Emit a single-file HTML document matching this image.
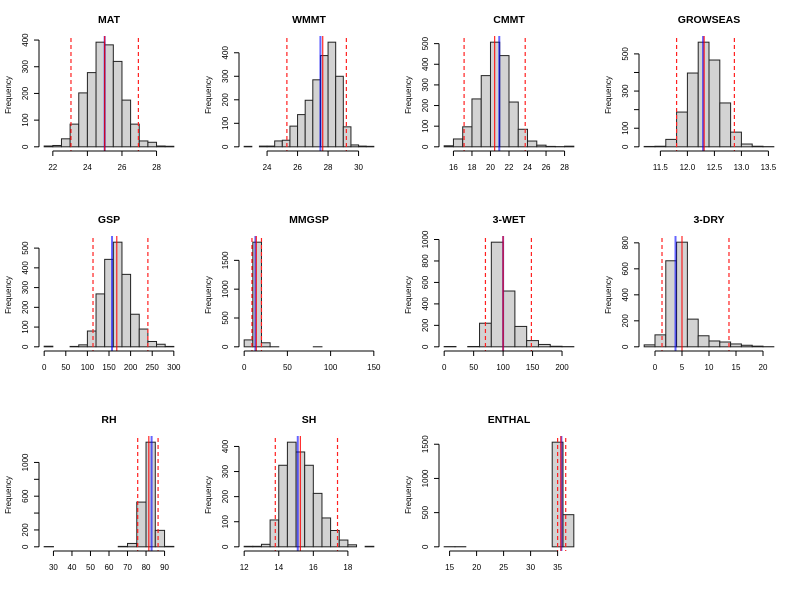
<!DOCTYPE html>
<html><head><meta charset="utf-8"><style>
html,body{margin:0;padding:0;background:#fff;}
svg{display:block;font-family:"Liberation Sans",sans-serif;}
</style></head><body>
<svg id="chart" width="800" height="600" viewBox="0 0 800 600"></svg>
<script>
// ---- data ----
const MAT_breaks=[21.5,22,22.5,23,23.5,24,24.5,25,25.5,26,26.5,27,27.5,28,28.5,29];
const MAT_counts=[3,5,30,85,202,278,392,382,320,175,85,22,17,3,2];
const MAT_xticks=[22,24,26,28];
const MAT_yticks=[0,100,200,300,400];
const MAT_ylabels=["0","100","200","300","400"];
const MAT_dashed=[23.05,26.95];
const MAT_blue=25.0, MAT_red=25.0;

const WMMT_breaks=[22.5,23,23.5,24,24.5,25,25.5,26,26.5,27,27.5,28,28.5,29,29.5,30,30.5,31];
const WMMT_counts=[2,0,3,3,25,28,88,137,198,285,388,445,300,85,8,3,2];
const WMMT_xticks=[24,26,28,30];
const WMMT_yticks=[0,100,200,300,400];
const WMMT_ylabels=["0","100","200","300","400"];
const WMMT_dashed=[25.3,29.2];
const WMMT_blue=27.5, WMMT_red=27.65;

const CMMT_breaks=[15,16,17,18,19,20,21,22,23,24,25,26,27,28,29];
const CMMT_counts=[5,38,97,232,345,507,442,217,85,28,8,2,1,3];
const CMMT_xticks=[16,18,20,22,24,26,28];
const CMMT_yticks=[0,100,200,300,400,500];
const CMMT_ylabels=["0","100","200","300","400","500"];
const CMMT_dashed=[17.15,23.75];
const CMMT_blue=20.95, CMMT_red=20.45;

const GROW_breaks=[11.2,11.4,11.6,11.8,12.0,12.2,12.4,12.6,12.8,13.0,13.2,13.4,13.6];
const GROW_counts=[2,3,40,187,397,563,467,236,79,15,3,1];
const GROW_xticks=[11.5,12.0,12.5,13.0,13.5];
const GROW_xlabels=["11.5","12.0","12.5","13.0","13.5"];
const GROW_yticks=[0,100,200,300,400,500];
const GROW_ylabels=["0","100","","300","","500"];
const GROW_dashed=[11.8,12.87];
const GROW_blue=12.29, GROW_red=12.31;

const GSP_breaks=[0,20,40,60,80,100,120,140,160,180,200,220,240,260,280,300];
const GSP_counts=[3,0,0,2,10,80,268,443,530,367,165,90,27,13,2];
const GSP_xticks=[0,50,100,150,200,250,300];
const GSP_yticks=[0,100,200,300,400,500];
const GSP_ylabels=["0","100","200","300","400","500"];
const GSP_dashed=[113,240];
const GSP_blue=157, GSP_red=168;

const MMGSP_breaks=[0,10,20,30,40,50,60,70,80,90,100,110,120,130,140,150];
const MMGSP_counts=[120,1815,70,1,0,0,0,0,1,0,0,0,0,0,0];
const MMGSP_xticks=[0,50,100,150];
const MMGSP_yticks=[0,500,1000,1500];
const MMGSP_ylabels=["0","500","1000","1500"];
const MMGSP_dashed=[9,20];
const MMGSP_blue=13, MMGSP_red=14;

const WET_breaks=[0,20,40,60,80,100,120,140,160,180,200,220];
const WET_counts=[3,0,3,220,975,520,190,58,22,5,2];
const WET_xticks=[0,50,100,150,200];
const WET_yticks=[0,200,400,600,800,1000];
const WET_ylabels=["0","200","400","600","800","1000"];
const WET_dashed=[70,148];
const WET_blue=100, WET_red=100;

const DRY_breaks=[-2,0,2,4,6,8,10,12,14,16,18,20,22];
const DRY_counts=[15,92,662,805,213,85,45,37,22,12,5,1];
const DRY_xticks=[0,5,10,15,20];
const DRY_yticks=[0,200,400,600,800];
const DRY_ylabels=["0","200","400","600","800"];
const DRY_dashed=[1.3,13.7];
const DRY_blue=3.8, DRY_red=5.0;

const RH_breaks=[25,30,35,40,45,50,55,60,65,70,75,80,85,90,95];
const RH_counts=[3,0,0,0,0,0,0,0,5,40,530,1240,195,5];
const RH_xticks=[30,40,50,60,70,80,90];
const RH_yticks=[0,200,400,600,800,1000];
const RH_ylabels=["0","200","","600","","1000"];
const RH_dashed=[75.5,86.5];
const RH_blue=83, RH_red=81.5;

const SH_breaks=[12,12.5,13,13.5,14,14.5,15,15.5,16,16.5,17,17.5,18,18.5,19,19.5];
const SH_counts=[2,2,10,107,325,417,378,325,213,115,65,27,8,0,2];
const SH_xticks=[12,14,16,18];
const SH_yticks=[0,100,200,300,400];
const SH_ylabels=["0","100","200","300","400"];
const SH_dashed=[13.8,17.4];
const SH_blue=15.1, SH_red=15.25;

const ENT_breaks=[14,16,18,20,22,24,26,28,30,32,34,36,38];
const ENT_counts=[2,2,0,0,0,0,0,0,0,0,1530,470];
const ENT_xticks=[15,20,25,30,35];
const ENT_yticks=[0,500,1000,1500];
const ENT_ylabels=["0","500","1000","1500"];
const ENT_dashed=[35.0,36.5];
const ENT_blue=35.7, ENT_red=35.6;

const panels=[
 {title:"MAT",b:MAT_breaks,c:MAT_counts,xt:MAT_xticks,yt:MAT_yticks,yl:MAT_ylabels,d:MAT_dashed,bl:MAT_blue,rd:MAT_red},
 {title:"WMMT",b:WMMT_breaks,c:WMMT_counts,xt:WMMT_xticks,yt:WMMT_yticks,yl:WMMT_ylabels,d:WMMT_dashed,bl:WMMT_blue,rd:WMMT_red},
 {title:"CMMT",b:CMMT_breaks,c:CMMT_counts,xt:CMMT_xticks,yt:CMMT_yticks,yl:CMMT_ylabels,d:CMMT_dashed,bl:CMMT_blue,rd:CMMT_red},
 {title:"GROWSEAS",b:GROW_breaks,c:GROW_counts,xt:GROW_xticks,xl:GROW_xlabels,yt:GROW_yticks,yl:GROW_ylabels,d:GROW_dashed,bl:GROW_blue,rd:GROW_red},
 {title:"GSP",b:GSP_breaks,c:GSP_counts,xt:GSP_xticks,yt:GSP_yticks,yl:GSP_ylabels,d:GSP_dashed,bl:GSP_blue,rd:GSP_red},
 {title:"MMGSP",b:MMGSP_breaks,c:MMGSP_counts,xt:MMGSP_xticks,yt:MMGSP_yticks,yl:MMGSP_ylabels,d:MMGSP_dashed,bl:MMGSP_blue,rd:MMGSP_red},
 {title:"3-WET",b:WET_breaks,c:WET_counts,xt:WET_xticks,yt:WET_yticks,yl:WET_ylabels,d:WET_dashed,bl:WET_blue,rd:WET_red},
 {title:"3-DRY",b:DRY_breaks,c:DRY_counts,xt:DRY_xticks,yt:DRY_yticks,yl:DRY_ylabels,d:DRY_dashed,bl:DRY_blue,rd:DRY_red},
 {title:"RH",b:RH_breaks,c:RH_counts,xt:RH_xticks,yt:RH_yticks,yl:RH_ylabels,d:RH_dashed,bl:RH_blue,rd:RH_red},
 {title:"SH",b:SH_breaks,c:SH_counts,xt:SH_xticks,yt:SH_yticks,yl:SH_ylabels,d:SH_dashed,bl:SH_blue,rd:SH_red},
 {title:"ENTHAL",b:ENT_breaks,c:ENT_counts,xt:ENT_xticks,yt:ENT_yticks,yl:ENT_ylabels,d:ENT_dashed,bl:ENT_blue,rd:ENT_red}
];

const NS="http://www.w3.org/2000/svg";
const svg=document.getElementById('chart');
function mk(tag,attrs,parent){const e=document.createElementNS(NS,tag);for(const k in attrs)e.setAttribute(k,attrs[k]);parent.appendChild(e);return e;}

panels.forEach((p,i)=>{
  const ox=(i%4)*200, oy=Math.floor(i/4)*200;
  const L=ox+39,R=ox+179,T=oy+38,B=oy+151;
  const b0=p.b[0],bN=p.b[p.b.length-1],rg=bN-b0;
  const xmin=b0-0.04*rg,xmax=bN+0.04*rg;
  const ymax=Math.max(...p.c);
  const ylo=-0.04*ymax,yhi=1.04*ymax;
  const sx=v=>L+(v-xmin)/(xmax-xmin)*(R-L);
  const sy=v=>B-(v-ylo)/(yhi-ylo)*(B-T);
  const slug=p.title.toLowerCase().replace(/[^a-z0-9]+/g,'-').replace(/^-|-$/g,'');
  const g=mk('g',{},svg);
  
  

  const t=mk('text',{x:ox+109,y:oy+23,'text-anchor':'middle','font-size':'10.5','font-weight':'bold',fill:'#000'},g);
  
  
  t.textContent=p.title;

  const bars=mk('g',{},g);
  
  
  p.c.forEach((v,j)=>{
    const x1=sx(p.b[j]),x2=sx(p.b[j+1]);
    const r=mk('rect',{x:x1,y:sy(v),width:x2-x1,height:sy(0)-sy(v),fill:'#d3d3d3',stroke:'#222','stroke-width':'1'},bars);
    
    
  });

  p.d.forEach(v=>{
    const l=mk('line',{x1:sx(v),x2:sx(v),y1:T,y2:B,stroke:'#ff2020','stroke-width':'1.2','stroke-dasharray':'4,3'},g);
    
    
  });
  const lb=mk('line',{x1:sx(p.bl),x2:sx(p.bl),y1:T-2,y2:B,stroke:'rgba(0,0,255,0.6)','stroke-width':'2'},g);
  
  
  const lr=mk('line',{x1:sx(p.rd),x2:sx(p.rd),y1:T-2,y2:B,stroke:'rgba(255,0,0,0.85)','stroke-width':'1.2'},g);
  
  

  // x axis
  const xa=mk('g',{},g);
  
  
  mk('line',{x1:sx(p.xt[0]),x2:sx(p.xt[p.xt.length-1]),y1:B,y2:B,stroke:'#000','stroke-width':'1'},xa);
  p.xt.forEach((v,j)=>{
    mk('line',{x1:sx(v),x2:sx(v),y1:B,y2:B+5,stroke:'#000','stroke-width':'1'},xa);
    const tx=mk('text',{x:sx(v),y:B+19,'text-anchor':'middle','font-size':'8',fill:'#000'},xa);
    
    
    tx.textContent=p.xl?p.xl[j]:String(v);
  });
  // y axis
  const ya=mk('g',{},g);
  
  
  mk('line',{x1:L,x2:L,y1:sy(p.yt[0]),y2:sy(p.yt[p.yt.length-1]),stroke:'#000','stroke-width':'1'},ya);
  p.yt.forEach((v,j)=>{
    mk('line',{x1:L-5,x2:L,y1:sy(v),y2:sy(v),stroke:'#000','stroke-width':'1'},ya);
    if(p.yl[j]){
      const ty=mk('text',{x:0,y:0,'text-anchor':'middle','font-size':'8',fill:'#000',transform:`translate(${ox+28},${sy(v)}) rotate(-90)`},ya);
      
      
      ty.textContent=p.yl[j];
    }
  });
  const yt=mk('text',{x:0,y:0,'text-anchor':'middle','font-size':'8',fill:'#000',transform:`translate(${ox+11},${oy+95}) rotate(-90)`},g);
  
  
  yt.textContent='Frequency';
});
</script>
</body></html>
